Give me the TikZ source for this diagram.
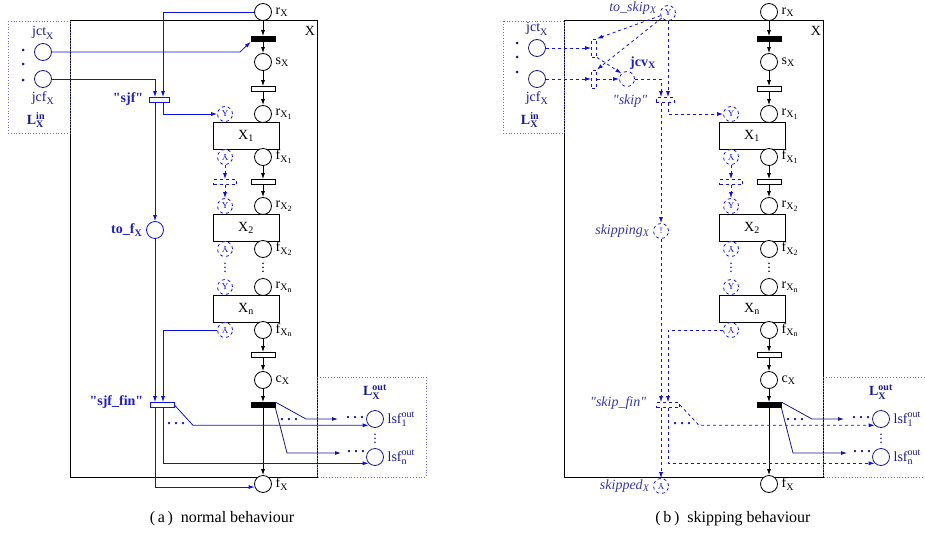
\documentclass[tikz,border=0pt]{standalone}
\usepackage{fontspec}
\setmainfont{Liberation Serif}
\usepackage{graphicx}
\usetikzlibrary{calc,arrows.meta}
\DeclareMathSizes{14}{14}{10}{8}
\DeclareMathSizes{16}{16}{11}{9}
\DeclareMathSizes{9}{9}{7}{5}
\definecolor{arcblue}{RGB}{15,15,235}
\definecolor{lblblue}{RGB}{30,30,200}
\definecolor{navyblue}{RGB}{25,25,140}
\definecolor{itblue}{RGB}{55,55,165}
\definecolor{boxblue}{RGB}{110,110,210}
\newcommand{\sublbl}[2]{$\mathrm{#1}_{\mathrm{#2}}$}
\newcommand{\subsublbl}[3]{$\mathrm{#1}_{\mathrm{#2}_{\mathrm{#3}}}$}
\newcommand{\updown}{\rotatebox{180}{Y}}
\newcommand{\qt}{\textquotedbl}

\begin{document}
\begin{tikzpicture}[x=1pt,y=-1pt,line width=0.8pt,>={Latex[length=6pt,width=4pt]},
    font=\fontsize{14}{16}\selectfont,
    place/.style={circle,draw,fill=white,minimum size=17pt,inner sep=0pt},
    iplace/.style={place,draw=navyblue},
    dplace/.style={circle,draw=arcblue,dashed,fill=white,minimum size=15pt,inner sep=0pt,
      text=arcblue,font=\fontsize{9}{9}\selectfont},
    trans/.style={rectangle,draw,fill=white,minimum width=24pt,minimum height=5pt,inner sep=0pt},
    btrans/.style={trans,fill=black},
    dtrans/.style={trans,draw=arcblue,dashed,minimum width=23pt},
    dvtrans/.style={rectangle,draw=arcblue,dashed,minimum width=5pt,minimum height=18pt,inner sep=0pt},
    subnet/.style={rectangle,draw,minimum width=66pt,minimum height=27pt,inner sep=0pt},
    dots/.style={inner sep=0pt},
    barc/.style={arcblue,->},
    darc/.style={arcblue,dashed,->}]
  \useasboundingbox (0,0) rectangle (925,535);

  % subnet X, the same in both panels
  \foreach \p/\dx/\bl in {a/0/70,b/506/58}{
  \begin{scope}[xshift=\dx pt]
    \draw (\bl,20) rectangle (317,477);
    \node (xl\p) at (310,31) {X};
    \draw[boxblue,dotted] (317,377) rectangle (426,477);
    \node[navyblue] (lout\p) at (375,392) {$\mathbf{L}^{\mathbf{out}}_{\mathbf{X}}$};

    \node[place,label={east:\sublbl{r}{X}}] (rx\p) at (263,12) {};
    \node[btrans] (tb\p) at (263,39) {};
    \node[place,label={east:\sublbl{s}{X}}] (sx\p) at (263,62) {};
    \node[trans] (ts\p) at (263,89) {};
    \node[place,label={east:\subsublbl{r}{X}{1}}] (rx1\p) at (263,114) {};
    \node[subnet] (x1\p) at (246,135.5) {\sublbl{X}{1}};
    \node[place,label={east:\subsublbl{f}{X}{1}}] (fx1\p) at (263,157) {};
    \node[trans] (t12\p) at (263,182) {};
    \node[place,label={east:\subsublbl{r}{X}{2}}] (rx2\p) at (263,206) {};
    \node[subnet] (x2\p) at (246,228) {\sublbl{X}{2}};
    \node[place,label={east:\subsublbl{f}{X}{2}}] (fx2\p) at (263,249) {};
    \node[dots] (vd\p) at (263,265) {$\vdots$};
    \node[place,label={east:\subsublbl{r}{X}{n}}] (rxn\p) at (263,287) {};
    \node[subnet] (xn\p) at (246,308.5) {\sublbl{X}{n}};
    \node[place,label={east:\subsublbl{f}{X}{n}}] (fxn\p) at (263,330) {};
    \node[trans] (tn\p) at (263,355) {};
    \node[place,label={east:\sublbl{c}{X}}] (cx\p) at (263,380) {};
    \node[btrans] (te\p) at (263,405) {};
    \node[place,label={east:\sublbl{f}{X}}] (fx\p) at (263,484) {};
    \foreach \u/\v in {rx/tb,tb/sx,sx/ts,ts/rx1,fx1/t12,t12/rx2,fxn/tn,tn/cx,cx/te,te/fx}
      \draw[->] (\u\p) -- (\v\p);

    % skip interface of the subnets
    \node[dplace] (y1\p) at (225,114) {Y};
    \node[dplace] (l1\p) at (225,157) {\updown};
    \node[dtrans] (dt\p) at (225,182) {};
    \node[dplace] (y2\p) at (225,206) {Y};
    \node[dplace] (l2\p) at (225,249) {\updown};
    \node[dots,arcblue] (dd\p) at (225,265) {$\vdots$};
    \node[dplace] (yn\p) at (225,287) {Y};
    \node[dplace] (ln\p) at (225,330) {\updown};
    \draw[darc] (l1\p) -- (dt\p);
    \draw[darc] (dt\p) -- (y2\p);

    % output places
    \node[iplace,label={[navyblue]east:$\mathrm{lsf}^{\mathrm{out}}_{\mathrm{1}}$}] (lsf1\p) at (375,419) {};
    \node[iplace,label={[navyblue]east:$\mathrm{lsf}^{\mathrm{out}}_{\mathrm{n}}$}] (lsfn\p) at (375,457) {};
    \node[dots,navyblue] (dv\p) at (375,436) {$\vdots$};
    \coordinate (o1\p) at (338,419);
    \coordinate (o2\p) at (341,453);
    \draw[navyblue,->] (te\p.north east) -- (306,419) -- (o1\p);
    \draw[navyblue,->] (te\p.south east) -- (287,453) -- (o2\p);
    \node[dots,navyblue] (d0\p) at (289,420) {\textbf{.\ .\ .}};
    \node[dots,navyblue] (d1\p) at (355,418) {\textbf{.\ .\ .}};
    \node[dots,navyblue] (d2\p) at (356,452) {\textbf{.\ .\ .}};
  \end{scope}
  }

  % (a) normal behaviour
  \draw[boxblue,dotted] (8,21) rectangle (70,133);
  \node[iplace,label={[navyblue]above:\sublbl{jct}{X}}] (jct) at (43,52) {};
  \node[iplace,label={[navyblue]below:\sublbl{jcf}{X}}] (jcf) at (43,79) {};
  \foreach \y in {50,64,80} \fill[navyblue] (23,\y) circle (1.5);
  \node[navyblue] (lin) at (36,120) {$\mathbf{L}^{\mathbf{in}}_{\mathbf{X}}$};
  \coordinate (ca) at (155,0);
  \coordinate (cb) at (163,0);
  \coordinate (k1) at (193,0);
  \node[trans,draw=arcblue,minimum width=20pt] (sjf) at (159,100) {};
  \node[lblblue,anchor=east] (sjfl) at (147,99) {\textbf{\qt sjf\qt}};
  \node[place,draw=arcblue,label={[lblblue]west:\textbf{to\_f}$_{\mathbf{X}}$}] (tof) at (155,230) {};
  \node[trans,draw=arcblue] (sjffin) at (162,405) {};
  \node[lblblue,anchor=east] (sjffinl) at (147,402) {\textbf{\qt sjf\_fin\qt}};
  \draw[barc] (rxa) -| (cb |- sjf.north);
  \draw[barc] (jcf) -| (ca |- sjf.north);
  \draw[barc] (jct) -- (240,52) -- (tba.south west);
  \draw[barc] (cb |- sjf.south) |- (y1a);
  \draw[barc] (ca |- sjf.south) -- (tof);
  \draw[barc] (tof) -- (ca |- sjffin.north);
  \draw[barc] (lna) -| (cb |- sjffin.north);
  \draw[barc] (sjffin.east) -- (k1 |- lsf1a.south west) -- (lsf1a.south west);
  \node[dots,arcblue] (sd) at (176,424) {\textbf{.\ .\ .}};
  \draw[barc] (cb |- sjffin.south) |- (lsfna.south west);
  \draw[barc] (ca |- sjffin.south) |- (fxa.200);
  \node[font=\fontsize{16}{18}\selectfont] (capa) at (222,519) {(\,a\,)\ \ normal behaviour};

  % (b) skipping behaviour
  \draw[boxblue,dotted] (503,21) rectangle (564,133);
  \node[iplace,label={[navyblue]above:\sublbl{jct}{X}}] (jctb) at (537,48) {};
  \node[iplace,label={[navyblue]below:\sublbl{jcf}{X}}] (jcfb) at (537,79) {};
  \foreach \y in {43,57,72} \fill[navyblue] (517,\y) circle (1.5);
  \node[navyblue] (linb) at (530,120) {$\mathbf{L}^{\mathbf{in}}_{\mathbf{X}}$};
  \coordinate (cc) at (661,0);
  \coordinate (cd) at (668,0);
  \coordinate (k2) at (699,0);
  \node[dplace,label={[itblue,yshift=5pt,font=\fontsize{14}{16}\selectfont]west:\textit{to\_skip}$_{\mathit{X}}$}] (toskip) at (668,13) {Y};
  \node[dvtrans] (tv1) at (594,48) {};
  \node[dvtrans] (tv2) at (594,79) {};
  \node[dplace] (jcv) at (627,79) {};
  \node[lblblue] (jcvl) at (643,63) {\textbf{jcv}$_{\mathbf{X}}$};
  \node[dtrans,minimum width=18pt] (skip) at (665,100) {};
  \node[itblue,anchor=east] (skipl) at (651,101) {\textit{\qt skip\qt}};
  \node[dplace,label={[itblue,font=\fontsize{14}{16}\selectfont]west:\textit{skipping}$_{\mathit{X}}$}] (skipping) at (661,231) {!};
  \node[dtrans] (skipfin) at (668,405) {};
  \node[itblue,anchor=east] (skipfinl) at (650,403) {\textit{\qt skip\_fin\qt}};
  \node[dplace,label={[itblue,font=\fontsize{14}{16}\selectfont]west:\textit{skipped}$_{\mathit{X}}$}] (skipped) at (661,486) {\updown};
  \draw[darc] (jctb) -- (tv1);
  \draw[darc] (jcfb) -- (tv2);
  \draw[darc] (toskip) -- (tv1.north east);
  \draw[darc] (toskip) -- (tv2.north east);
  \draw[darc] (tv1.south east) -- (jcv.north west);
  \draw[darc] (tv2) -- (jcv);
  \draw[darc] (jcv) -| (cc |- skip.north);
  \draw[darc] (toskip) -- (cd |- skip.north);
  \draw[darc] (cd |- skip.south) |- (y1b);
  \draw[darc] (cc |- skip.south) -- (skipping);
  \draw[darc] (skipping) -- (cc |- skipfin.north);
  \draw[darc] (lnb) -| (cd |- skipfin.north);
  \draw[darc] (skipfin.east) -- (k2 |- lsf1b.south west) -- (lsf1b.south west);
  \node[dots,arcblue] (skd) at (682,424) {\textbf{.\ .\ .}};
  \draw[darc] (cd |- skipfin.south) |- (lsfnb.south west);
  \draw[darc] (cc |- skipfin.south) -- (skipped);
  \node[font=\fontsize{16}{18}\selectfont] (capb) at (733,519) {(\,b\,)\ \ skipping behaviour};
\end{tikzpicture}
\end{document}
